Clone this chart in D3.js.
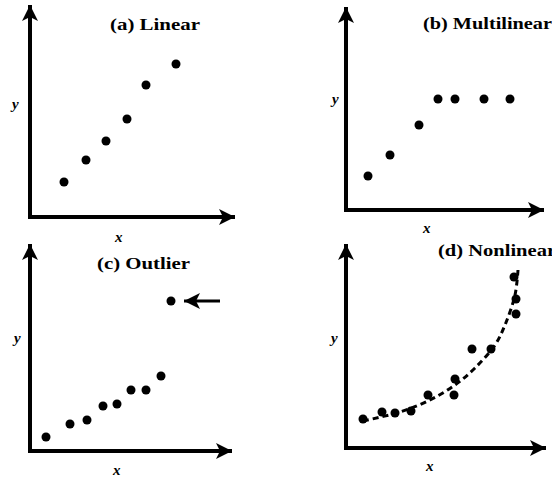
<!DOCTYPE html>
<html>
  <head>
    <title>Four relations</title>
    <script src="https://d3js.org/d3.v7.min.js"></script>
  </head>
  <body style="margin:0; background:#fff">
    <svg width="552" height="478" id="mainsvg"></svg>
    <script>
        // panel titles
        const titles = ['(a) Linear', '(b) Multilinear', '(c) Outlier', '(d) Nonlinear'];

        // scatter points, axis units 0..10
        const linearPts = [[1.7,1.75],[2.8,2.85],[3.8,3.8],[4.85,4.9],[5.8,6.6],[7.3,7.65]];
        const multiPts = [[1.1,1.7],[2.2,2.75],[3.65,4.25],[4.6,5.55],[5.45,5.55],[6.9,5.55],[8.2,5.55]];
        const outlierPts = [[0.8,0.7],[2.0,1.35],[2.85,1.55],[3.65,2.25],[4.35,2.35],[5.05,3.05],[5.8,3.05],[6.55,3.75],[7.05,7.5]];
        const nonlinPts = [[0.85,1.45],[1.8,1.8],[2.45,1.75],[3.25,1.85],[4.1,2.65],[5.45,3.45],[5.4,2.65],[6.3,4.95],[7.25,4.95],[8.5,7.45],[8.5,6.7],[8.4,8.55]];
        // dashed trend through panel (d)
        const nonlinCurve = [[0.85,1.35],[2.7,1.8],[4.2,2.4],[5.45,3.15],[6.45,4.0],[7.45,5.15],[7.95,6.15],[8.45,7.65],[8.6,8.9]];

        const svg = d3.select('#mainsvg');

        // arrow head, drawn in user units so it does not scale with stroke
        svg.append('defs').append('marker')
            .attr('id', 'head')
            .attr('viewBox', '0 0 16 16')
            .attr('refX', 16).attr('refY', 8)
            .attr('markerWidth', 16).attr('markerHeight', 16)
            .attr('markerUnits', 'userSpaceOnUse')
            .attr('orient', 'auto')
            .append('path').attr('d', 'M0,0 L16,8 L0,16 L4,8 Z').attr('fill', '#000');

        // each panel: origin, axis lengths (in units), title placement, label placement
        const panels = [
            {ox: 30, oy: 217, xmax: 10.25, ymax: 10.6, pts: linearPts,
             title: {x: 110, y: 30, len: 90}, ylab: [12, 109], xlab: [115, 242]},
            {ox: 346, oy: 210, xmax: 9.9, ymax: 10.15, pts: multiPts,
             title: {x: 423, y: 29, len: 129}, ylab: [332, 104], xlab: [423, 233]},
            {ox: 30, oy: 451, xmax: 10.1, ymax: 10.35, pts: outlierPts,
             title: {x: 97, y: 269, len: 93}, ylab: [14, 343], xlab: [113, 475]},
            {ox: 346, oy: 448, xmax: 10.0, ymax: 10.2, pts: nonlinPts,
             title: {x: 438, y: 256, len: 118}, ylab: [331, 343], xlab: [426, 471]}
        ];

        panels.forEach((p, i) => {
            const x = d3.scaleLinear().domain([0, 10]).range([p.ox, p.ox + 200]);
            const y = d3.scaleLinear().domain([0, 10]).range([p.oy, p.oy - 200]);
            const g = svg.append('g');

            // axes: bare lines with arrow heads, no ticks
            g.append('line')
                .attr('x1', x(0)).attr('y1', y(0) + 2)
                .attr('x2', x(0)).attr('y2', y(p.ymax))
                .attr('stroke', '#000').attr('stroke-width', 4)
                .attr('marker-end', 'url(#head)');
            g.append('line')
                .attr('x1', x(0) - 2).attr('y1', y(0))
                .attr('x2', x(p.xmax)).attr('y2', y(0))
                .attr('stroke', '#000').attr('stroke-width', 4)
                .attr('marker-end', 'url(#head)');

            if (i === 3) {
                g.append('path')
                    .datum(nonlinCurve)
                    .attr('d', d3.line().x(d => x(d[0])).y(d => y(d[1])).curve(d3.curveCatmullRom))
                    .attr('fill', 'none')
                    .attr('stroke', '#000')
                    .attr('stroke-width', 3)
                    .attr('stroke-dasharray', '6,4');
            }

            g.selectAll('circle').data(p.pts).join('circle')
                .attr('cx', d => x(d[0]))
                .attr('cy', d => y(d[1]))
                .attr('r', 4.5)
                .attr('fill', '#000');

            if (i === 2) {
                // arrow pointing at the outlier
                const o = outlierPts[outlierPts.length - 1];
                g.append('line')
                    .attr('x1', x(o[0]) + 49).attr('y1', y(o[1]))
                    .attr('x2', x(o[0]) + 13).attr('y2', y(o[1]))
                    .attr('stroke', '#000').attr('stroke-width', 3)
                    .attr('marker-end', 'url(#head)');
            }

            g.append('text')
                .attr('x', p.title.x).attr('y', p.title.y)
                .attr('textLength', p.title.len)
                .attr('lengthAdjust', 'spacingAndGlyphs')
                .attr('font-family', 'Liberation Serif, serif')
                .attr('font-weight', 'bold')
                .attr('font-size', 16)
                .text(titles[i]);

            g.append('text')
                .attr('x', p.ylab[0]).attr('y', p.ylab[1])
                .attr('font-family', 'Liberation Serif, serif')
                .attr('font-style', 'italic').attr('font-weight', 'bold')
                .attr('font-size', 15)
                .text('y');
            g.append('text')
                .attr('x', p.xlab[0]).attr('y', p.xlab[1])
                .attr('font-family', 'Liberation Serif, serif')
                .attr('font-style', 'italic').attr('font-weight', 'bold')
                .attr('font-size', 15)
                .text('x');
        });
    </script>
  </body>
</html>
